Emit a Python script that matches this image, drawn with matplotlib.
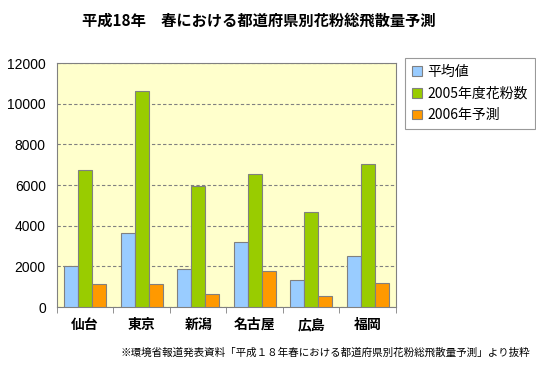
import numpy as np
import matplotlib
matplotlib.use("Agg")
import matplotlib.pyplot as plt

plt.rcParams['font.family'] = ['Liberation Sans', 'Noto Sans CJK JP', 'DejaVu Sans']

cities = ['仙台', '東京', '新潟', '名古屋', '広島', '福岡']
series_names = ['平均値', '2005年度花粉数', '2006年予測']
average = [2040, 3620, 1890, 3220, 1350, 2530]
count_2005 = [6730, 10630, 5950, 6530, 4660, 7020]
forecast_2006 = [1150, 1150, 660, 1760, 560, 1200]
colors = ['#99CCFF', '#99CC00', '#FF9900']

fig = plt.figure(figsize=(5.36, 3.74), dpi=100)
ax = fig.add_axes([0.1063, 0.179, 0.6325, 0.6524])
ax.set_facecolor('#FFFFCC')

x = np.arange(len(cities))
w = 0.25
for i, (vals, name) in enumerate(zip([average, count_2005, forecast_2006], series_names)):
    ax.bar(x + (i - 1) * w, vals, w, color=colors[i], edgecolor='#808080',
           linewidth=0.8, label=name, zorder=3)

ax.set_xlim(-0.5, len(cities) - 0.5)
ax.set_ylim(0, 12000)
ax.set_yticks(range(0, 12001, 2000))
ax.yaxis.grid(True, color='#808080', linestyle=(0, (3, 2)), linewidth=0.8, zorder=1)
ax.tick_params(axis='y', length=0, labelsize=10, pad=8)

ax.set_xticks(x)
ax.set_xticklabels(cities, fontsize=10, fontweight='bold', family='Noto Sans CJK JP')
ax.set_xticks(np.arange(-0.5, len(cities), 1), minor=True)
ax.tick_params(axis='x', which='major', length=0, pad=8)
ax.tick_params(axis='x', which='minor', length=4, color='#808080')
for s in ax.spines.values():
    s.set_color('#808080')

leg = ax.legend(loc='upper left', bbox_to_anchor=(1.028, 1.02), frameon=True,
                fancybox=False, edgecolor='#808080', handlelength=0.7,
                handleheight=0.7, handletextpad=0.4, labelspacing=0.55,
                borderaxespad=0.0, borderpad=0.5,
                prop={'family': ['Noto Sans CJK JP'], 'size': 10})
leg.get_frame().set_linewidth(0.8)

fig.text(0.153, 0.945, '平成18年　春における都道府県別花粉総飛散量予測',
         ha='left', va='center', fontsize=11, fontweight='bold',
         family='Noto Sans CJK JP')
fig.text(0.989, 0.056, '※環境省報道発表資料「平成１８年春における都道府県別花粉総飛散量予測」より抜粋',
         ha='right', va='center', fontsize=7.6, family='Noto Sans CJK JP')

fig.savefig('out.png', dpi=100)
